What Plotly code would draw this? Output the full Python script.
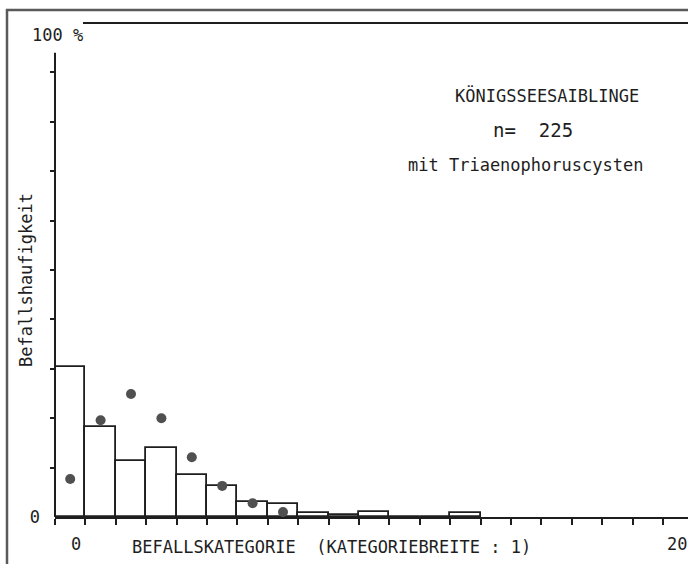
import plotly.graph_objects as go

# ---- data ----
categories = list(range(0, 14))
observed_pct = [30.4, 18.2, 11.3, 14.0, 8.5, 6.3, 3.0, 2.6, 0.8, 0.4, 1.0, 0.0, 0.0, 0.8]
expected_categories = list(range(0, 8))
expected_pct = [7.7, 19.6, 24.9, 20.0, 12.1, 6.3, 2.8, 1.0]

x_tick_values = [0, 20]
x_tick_labels = ["0", "20"]
y_tick_values = [0]
y_tick_labels = ["0"]
y_minor_ticks = [10, 20, 30, 40, 50, 60, 70, 80, 90]
x_boundaries = [k - 0.5 for k in range(0, 21)]

title_lines = ["KÖNIGSSEESAIBLINGE", "n=  225", "mit Triaenophoruscysten"]
x_title = "BEFALLSKATEGORIE  (KATEGORIEBREITE : 1)"
y_title = "Befallshaufigkeit"
y_top_label = "100 %"

FONT = "DejaVu Sans Mono"
INK = "#1e1e1e"

W, H = 688, 564
L, R, T, B = 55, 0, 23, 47
px_per_cat = 30.4
plot_w = W - L - R

fig = go.Figure()
fig.add_trace(go.Bar(
    x=categories, y=observed_pct, width=1,
    marker=dict(color="rgba(255,255,255,0)", line=dict(color=INK, width=1.8)),
    showlegend=False,
))
fig.add_trace(go.Scatter(
    x=expected_categories, y=expected_pct, mode="markers",
    marker=dict(color="#505050", size=10, line=dict(width=0)),
    showlegend=False,
))

fig.update_layout(
    width=W, height=H,
    margin=dict(l=L, r=R, t=T, b=B),
    paper_bgcolor="white", plot_bgcolor="white",
    font=dict(family=FONT, size=17, color=INK),
    bargap=0,
    xaxis=dict(
        range=[-0.5, -0.5 + plot_w / px_per_cat],
        showgrid=False, zeroline=False,
        showline=True, linecolor=INK, linewidth=2,
        tickmode="array", tickvals=x_tick_values, ticktext=[""] * len(x_tick_values),
        ticks="",
        minor=dict(tickmode="array", tickvals=x_boundaries, ticks="outside",
                   ticklen=6, tickwidth=2, tickcolor=INK),
    ),
    yaxis=dict(
        range=[0, 100],
        showgrid=False, zeroline=False, showline=False,
        tickmode="array", tickvals=y_tick_values, ticktext=y_tick_labels,
        ticks="", ticklabelstandoff=14,
        tickfont=dict(family=FONT, size=17, color=INK),
        minor=dict(tickmode="array", tickvals=y_minor_ticks, ticks="outside",
                   ticklen=4, tickwidth=1.5, tickcolor=INK),
    ),
)

def px_to_paper_x(px):
    return (px - L) / plot_w

def px_to_paper_y(py):
    return (H - B - py) / (H - B - T)

shapes = [
    # y-axis line (stops short of the top)
    dict(type="line", xref="paper", yref="paper", x0=0, x1=0, y0=0, y1=0.94,
         line=dict(color=INK, width=2)),
    # top 100% line
    dict(type="line", xref="paper", yref="paper", x0=px_to_paper_x(83), x1=1.0,
         y0=1, y1=1, line=dict(color=INK, width=2)),
    # outer frame (scan border)
    dict(type="line", xref="paper", yref="paper", x0=px_to_paper_x(7), x1=px_to_paper_x(7),
         y0=px_to_paper_y(9), y1=px_to_paper_y(H + 5), line=dict(color="#5a5a5a", width=2.5)),
    dict(type="line", xref="paper", yref="paper", x0=px_to_paper_x(6), x1=1.02,
         y0=px_to_paper_y(10), y1=px_to_paper_y(10), line=dict(color="#5a5a5a", width=2.5)),
]
fig.update_layout(shapes=shapes)

ann = []
title_sizes = [17, 19, 17]
for text, size, (cx, cy) in zip(title_lines, title_sizes, [(547, 95), (533, 130), (525, 165)]):
    ann.append(dict(text=text, x=px_to_paper_x(cx), y=px_to_paper_y(cy),
                    xref="paper", yref="paper", showarrow=False,
                    xanchor="center", yanchor="middle",
                    font=dict(family=FONT, size=size, color=INK)))
# x tick labels placed under the category centres
x_label_shift = [6, -1]
for v, t, s in zip(x_tick_values, x_tick_labels, x_label_shift):
    ann.append(dict(text=t, x=v, y=px_to_paper_y(544), xref="x", yref="paper",
                    showarrow=False, xanchor="center", yanchor="middle", xshift=s,
                    font=dict(family=FONT, size=17, color=INK)))
ann.append(dict(text=x_title, x=px_to_paper_x(331), y=px_to_paper_y(547),
                xref="paper", yref="paper", showarrow=False,
                xanchor="center", yanchor="middle",
                font=dict(family=FONT, size=17, color=INK)))
ann.append(dict(text=y_title, x=px_to_paper_x(26), y=px_to_paper_y(280),
                xref="paper", yref="paper", showarrow=False, textangle=-90,
                xanchor="center", yanchor="middle",
                font=dict(family=FONT, size=17, color=INK)))
ann.append(dict(text=y_top_label, x=px_to_paper_x(57), y=px_to_paper_y(35),
                xref="paper", yref="paper", showarrow=False,
                xanchor="center", yanchor="middle",
                font=dict(family=FONT, size=17, color=INK)))
fig.update_layout(annotations=ann)

fig.write_html(
    "out.html",
    config={"displayModeBar": False},
    post_script="document.body.style.margin='0';document.body.style.overflow='hidden';",
)
